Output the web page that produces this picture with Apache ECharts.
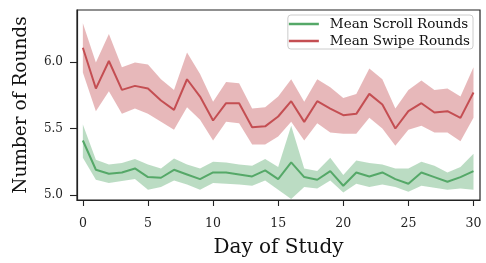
<!DOCTYPE html>
<html>
<head>
<meta charset="utf-8">
<script src="https://cdn.jsdelivr.net/npm/echarts@6/dist/echarts.min.js"></script>
<style>html,body{margin:0;padding:0;background:#fff}#c{width:486px;height:263px}</style>
</head>
<body>
<div id="c"></div>
<script>
const days = Array.from({length: 31}, (_, i) => i);
const xTicks = [0, 5, 10, 15, 20, 25, 30];
const yTicks = [5.0, 5.5, 6.0];

const scrollMean = [5.41,5.19,5.16,5.17,5.20,5.135,5.13,5.19,5.155,5.12,5.17,5.17,5.155,5.14,5.185,5.12,5.245,5.135,5.115,5.18,5.07,5.17,5.14,5.17,5.12,5.085,5.17,5.135,5.10,5.135,5.18];
const scrollUpper = [5.53,5.265,5.23,5.24,5.27,5.23,5.20,5.275,5.23,5.20,5.25,5.245,5.23,5.22,5.27,5.21,5.52,5.20,5.18,5.28,5.15,5.26,5.24,5.23,5.20,5.20,5.25,5.22,5.17,5.21,5.31];
const scrollLower = [5.28,5.115,5.09,5.105,5.12,5.04,5.06,5.11,5.08,5.04,5.09,5.085,5.08,5.07,5.11,5.04,4.97,5.06,5.05,5.11,5.02,5.085,5.06,5.08,5.06,5.025,5.07,5.055,5.04,5.05,5.04];

const swipeMean = [6.106,5.80,6.007,5.79,5.82,5.80,5.71,5.64,5.87,5.74,5.56,5.69,5.69,5.51,5.516,5.59,5.705,5.55,5.705,5.65,5.60,5.61,5.76,5.68,5.50,5.63,5.69,5.62,5.63,5.58,5.77];
const swipeUpper = [6.29,5.995,6.21,5.96,5.995,5.98,5.87,5.79,6.07,5.91,5.70,5.85,5.84,5.65,5.66,5.74,5.87,5.70,5.87,5.81,5.73,5.76,5.95,5.87,5.65,5.79,5.86,5.79,5.80,5.74,5.96];
const swipeLower = [5.92,5.63,5.78,5.61,5.65,5.61,5.55,5.49,5.66,5.565,5.41,5.55,5.54,5.38,5.38,5.44,5.55,5.41,5.54,5.47,5.46,5.46,5.58,5.50,5.37,5.49,5.52,5.47,5.47,5.405,5.58];

const GREEN = '#55a868', RED = '#c44e52';
const FONT = 'DejaVu Serif';

function pairs(arr) { return days.map((d, i) => [d, arr[i]]); }

function band(name, lo, up, color) {
  return {
    name: name, type: 'custom', silent: true, z: 1,
    data: [[days[0], lo[0]]],
    renderItem: function (params, api) {
      const top = days.map((d, i) => api.coord([d, up[i]]));
      const bot = days.map((d, i) => api.coord([d, lo[i]])).reverse();
      const cs = params.coordSys;
      return {
        type: 'polygon',
        shape: { points: top.concat(bot) },
        style: { fill: color, opacity: 0.4 },
        clipPath: { type: 'rect', shape: { x: cs.x, y: cs.y, width: cs.width, height: cs.height } }
      };
    }
  };
}

const chart = echarts.init(document.getElementById('c'), null, { renderer: 'canvas' });
chart.setOption({
  animation: false,
  backgroundColor: '#fff',
  textStyle: { fontFamily: FONT },
  grid: { left: 77, right: 6, top: 10, bottom: 60, show: true, borderColor: '#222', borderWidth: 1.2, backgroundColor: 'transparent' },
  legend: {
    data: ['Mean Scroll Rounds', 'Mean Swipe Rounds'],
    orient: 'vertical', right: 13, top: 15,
    icon: 'rect', itemWidth: 30, itemHeight: 2.5, itemGap: 3,
    padding: [2, 3, 1, 1],
    backgroundColor: 'rgba(255,255,255,0.8)', borderColor: '#ccc', borderWidth: 1, borderRadius: 3,
    textStyle: { fontFamily: FONT, fontSize: 13.5, lineHeight: 14, color: '#111', padding: [0, 0, 0, 6] }
  },
  xAxis: {
    type: 'value', min: -0.45, max: 30.5,
    name: 'Day of Study', nameLocation: 'middle', nameGap: 38,
    nameTextStyle: { fontFamily: FONT, fontSize: 20, color: '#111' },
    axisLine: { show: true, onZero: false, lineStyle: { color: '#222', width: 1.2 } },
    axisTick: { show: true, length: 6, customValues: xTicks, lineStyle: { color: '#222', width: 1.1 } },
    axisLabel: { customValues: xTicks, fontFamily: FONT, fontSize: 12.5, color: '#222', margin: 17 },
    splitLine: { show: false }
  },
  yAxis: {
    type: 'value', min: 4.963, max: 6.39,
    name: 'Number of Rounds', nameLocation: 'middle', nameGap: 46, nameRotate: 90,
    nameTextStyle: { fontFamily: FONT, fontSize: 18.5, color: '#111' },
    axisLine: { show: true, onZero: false, lineStyle: { color: '#222', width: 1.2 } },
    axisTick: { show: true, length: 7, customValues: yTicks, lineStyle: { color: '#222', width: 1.1 } },
    axisLabel: { customValues: yTicks, formatter: v => v.toFixed(1), fontFamily: FONT, fontSize: 12, color: '#222', margin: 14 },
    splitLine: { show: false }
  },
  series: [
    band('scrollBand', scrollLower, scrollUpper, GREEN),
    band('swipeBand', swipeLower, swipeUpper, RED),
    { name: 'Mean Scroll Rounds', type: 'line', data: pairs(scrollMean), symbol: 'none',
      color: GREEN, lineStyle: { color: GREEN, width: 2 }, z: 3 },
    { name: 'Mean Swipe Rounds', type: 'line', data: pairs(swipeMean), symbol: 'none',
      color: RED, lineStyle: { color: RED, width: 2 }, z: 3 }
  ]
});
</script>
</body>
</html>
